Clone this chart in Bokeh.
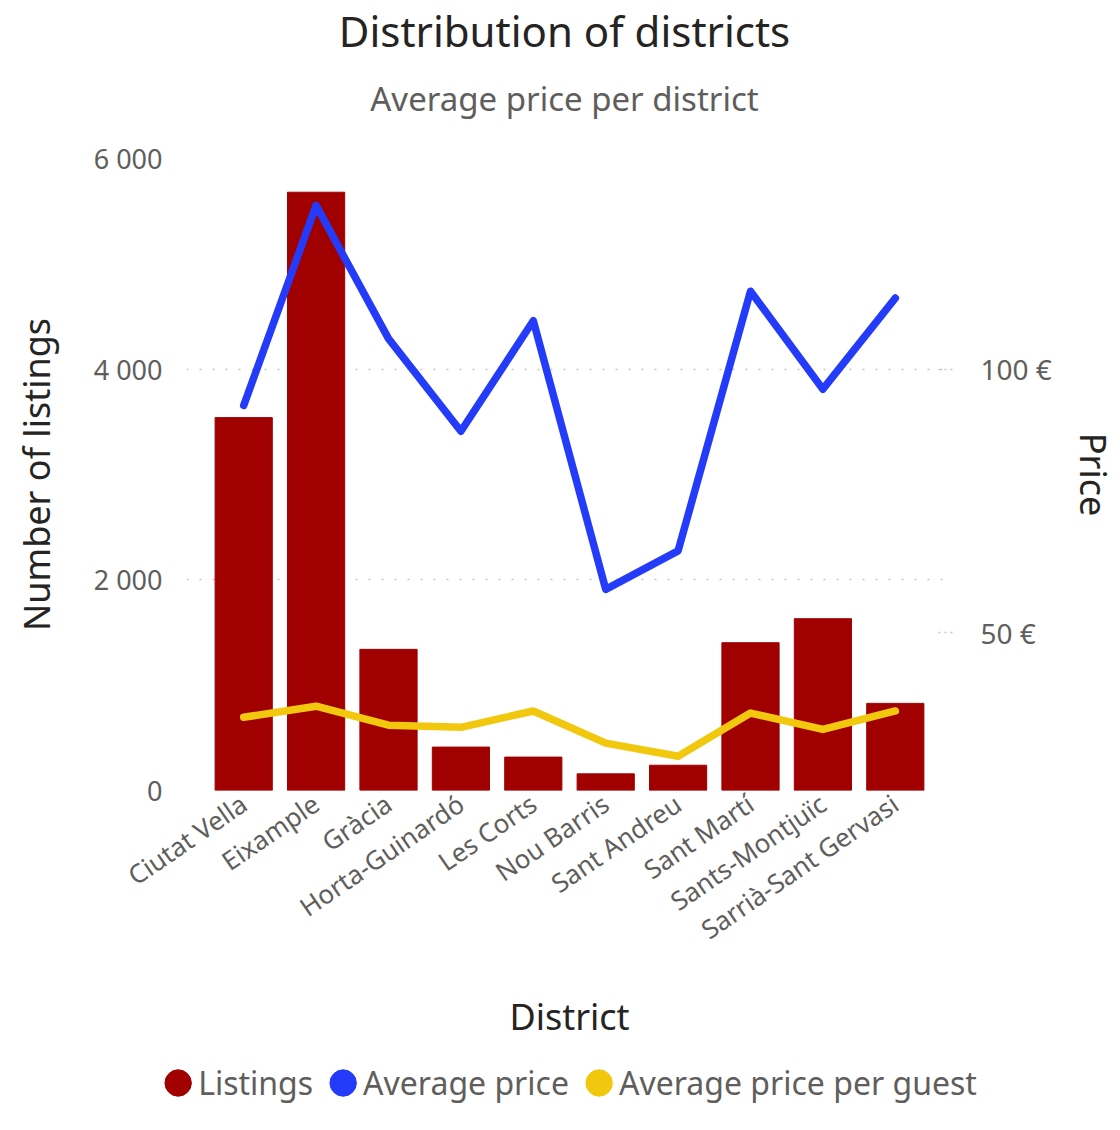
import numpy as np
from bokeh.plotting import figure
from bokeh.layouts import column
from bokeh.models import (FactorRange, Range1d, LinearAxis, FixedTicker, Legend,
                          LegendItem, Label)
from bokeh.embed import file_html
from bokeh.resources import INLINE

# ---------------- data ----------------
districts = ["Ciutat Vella", "Eixample", "Gràcia", "Horta-Guinardó", "Les Corts",
             "Nou Barris", "Sant Andreu", "Sant Martí", "Sants-Montjuïc",
             "Sarrià-Sant Gervasi"]
listings = [3540, 5680, 1340, 412, 317, 158, 240, 1403, 1631, 827]
avg_price = [93.1, 131.1, 105.8, 88.2, 109.2, 58.2, 65.5, 114.8, 96.2, 113.5]
avg_price_guest = [33.9, 36.0, 32.4, 32.0, 35.1, 29.0, 26.5, 34.7, 31.6, 35.1]

left_ticks = [0, 2000, 4000, 6000]
left_tick_labels = ["0", "2 000", "4 000", "6 000"]
right_ticks = [50, 100]
right_tick_labels = ["50 €", "100 €"]
series_names = ["Listings", "Average price", "Average price per guest"]
title_text = "Distribution of districts"
subtitle_text = "Average price per district"

# ---------------- style ----------------
FONT = "Noto Sans"
RED = "#A00000"
BLUE = "#243BFA"
YELLOW = "#F2C80F"
DARK = "#252423"
GRAY = "#605E5C"
GRID = "#C8C6C4"
W = 1120


def bare(fig):
    fig.outline_line_color = None
    fig.background_fill_color = "white"
    fig.border_fill_color = "white"
    return fig


# ---------------- header (titles) ----------------
hdr = bare(figure(width=W, height=138, output_backend="svg", toolbar_location=None,
                  x_axis_location=None, y_axis_location=None, title=None,
                  x_range=Range1d(0, 1), y_range=Range1d(0, 1),
                  min_border=0))
hdr.grid.visible = False
hdr.add_layout(Label(x=378, y=108, x_units="screen", y_units="screen",
                     text=title_text, text_align="center", text_baseline="middle",
                     text_font=FONT, text_font_size="42px", text_color=DARK))
hdr.add_layout(Label(x=378, y=40, x_units="screen", y_units="screen",
                     text=subtitle_text, text_align="center", text_baseline="middle",
                     text_font=FONT, text_font_size="33px", text_color=GRAY))

# ---------------- main chart ----------------
p = bare(figure(
    x_range=FactorRange(factors=districts, range_padding=0.29,
                        range_padding_units="absolute"),
    y_range=Range1d(0, 6000),
    width=W, height=923,
    output_backend="svg", toolbar_location=None, title=None,
    min_border_left=186, min_border_right=168,
    min_border_top=20, min_border_bottom=271,
))
p.extra_y_ranges = {"price": Range1d(20, 140)}

p.xgrid.visible = False
p.ygrid.ticker = FixedTicker(ticks=left_ticks)
p.ygrid.grid_line_color = GRID
p.ygrid.grid_line_dash = "2 11"
p.ygrid.grid_line_width = 1.5

p.vbar(x=districts, top=listings, width=0.79, color=RED)
p.line(x=districts, y=avg_price, y_range_name="price", line_width=7.5,
       color=BLUE, line_join="round", line_cap="round")
p.line(x=districts, y=avg_price_guest, y_range_name="price", line_width=7.5,
       color=YELLOW, line_join="round", line_cap="round")

# left axis
ya = p.yaxis[0]
ya.ticker = FixedTicker(ticks=left_ticks)
ya.major_label_overrides = dict(zip(left_ticks, left_tick_labels))
ya.axis_label = "Number of listings"
ya.axis_line_color = None
ya.major_tick_line_color = None
ya.minor_tick_line_color = None
ya.major_tick_out = 0
ya.major_tick_in = 0
ya.major_label_standoff = 24
ya.major_label_text_font = FONT
ya.major_label_text_font_size = "27px"
ya.major_label_text_color = GRAY
ya.axis_label_text_font = FONT
ya.axis_label_text_font_size = "36px"
ya.axis_label_text_font_style = "normal"
ya.axis_label_text_color = DARK
ya.axis_label_standoff = 30

# right axis
ra = LinearAxis(y_range_name="price", ticker=FixedTicker(ticks=right_ticks),
                axis_label="Price")
ra.major_label_overrides = dict(zip(right_ticks, right_tick_labels))
ra.axis_line_color = None
ra.major_tick_line_color = GRID
ra.major_tick_line_dash = "2 4"
ra.major_tick_line_width = 1.5
ra.major_tick_in = 14
ra.major_tick_out = 0
ra.minor_tick_line_color = None
ra.major_label_standoff = 28
ra.major_label_text_font = FONT
ra.major_label_text_font_size = "28px"
ra.major_label_text_color = GRAY
ra.axis_label_text_font = FONT
ra.axis_label_text_font_size = "36px"
ra.axis_label_text_font_style = "normal"
ra.axis_label_text_color = DARK
ra.axis_label_standoff = 14
p.add_layout(ra, "right")

# x axis
xa = p.xaxis[0]
xa.axis_label = "District"
xa.axis_line_color = None
xa.major_tick_line_color = None
xa.minor_tick_line_color = None
xa.major_tick_out = 0
xa.major_tick_in = 0
xa.major_label_orientation = 0.602
xa.major_label_standoff = 10
xa.major_label_text_font = FONT
xa.major_label_text_font_size = "26px"
xa.major_label_text_color = GRAY
xa.axis_label_text_font = FONT
xa.axis_label_text_font_size = "36px"
xa.axis_label_text_font_style = "normal"
xa.axis_label_text_color = DARK
xa.axis_label_standoff = 27

# ---------------- legend strip ----------------
lg = bare(figure(width=W, height=69, output_backend="svg", toolbar_location=None,
                 x_axis_location=None, y_axis_location=None, title=None,
                 x_range=Range1d(0, 1), y_range=Range1d(0, 1), min_border=0))
lg.grid.visible = False
colors = [RED, BLUE, YELLOW]
proxies = [lg.ellipse(x=[0.5], y=np.array([np.nan]), width=26, height=26,
                      width_units="screen", height_units="screen", color=c)
           for c in colors]
legend = Legend(
    items=[LegendItem(label=n, renderers=[r]) for n, r in zip(series_names, proxies)],
    orientation="horizontal", location="top_center",
    label_text_font=FONT, label_text_font_size="32px", label_text_color=GRAY,
    glyph_width=33, glyph_height=33, label_standoff=4, spacing=13,
    padding=0, margin=0, border_line_color=None, background_fill_alpha=0,
)
lg.add_layout(legend, "above")

layout = column(hdr, p, lg, spacing=0)
open("out.html", "w").write(file_html(layout, INLINE))
